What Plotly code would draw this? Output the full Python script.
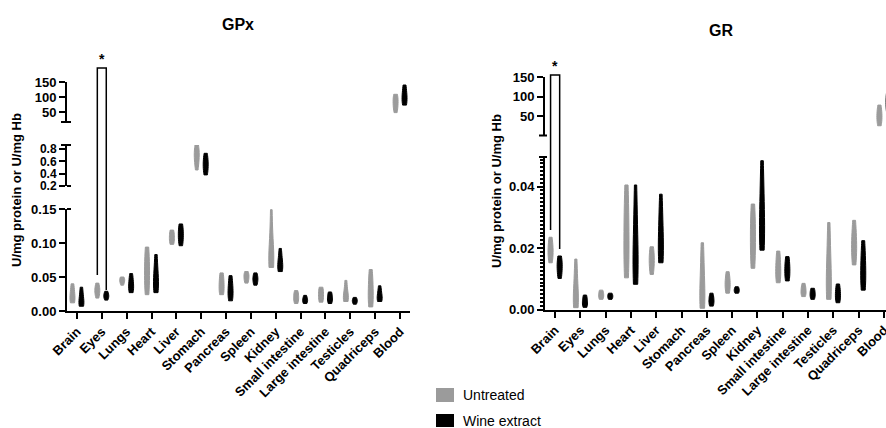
import plotly.graph_objects as go

W, H = 886, 428

categories = ["Brain", "Eyes", "Lungs", "Heart", "Liver", "Stomach", "Pancreas",
              "Spleen", "Kidney", "Small intestine", "Large intestine",
              "Testicles", "Quadriceps", "Blood"]

# GPx (U/mg protein or U/mg Hb) - estimated sample values per tissue
gpx_untreated = [
    [0.012, 0.016, 0.022, 0.030, 0.040],
    [0.019, 0.026, 0.030, 0.034, 0.041],
    [0.038, 0.042, 0.045, 0.047, 0.050],
    [0.024, 0.035, 0.050, 0.065, 0.080, 0.094],
    [0.098, 0.103, 0.108, 0.114, 0.119],
    [0.46, 0.58, 0.66, 0.72, 0.80, 0.865],
    [0.024, 0.030, 0.038, 0.047, 0.056],
    [0.041, 0.046, 0.050, 0.054, 0.058],
    [0.064, 0.068, 0.074, 0.085, 0.110, 0.149],
    [0.011, 0.016, 0.020, 0.025, 0.030],
    [0.013, 0.018, 0.024, 0.030, 0.035],
    [0.014, 0.017, 0.021, 0.030, 0.045],
    [0.006, 0.012, 0.022, 0.035, 0.048, 0.061],
    [48, 62, 75, 88, 100, 109],
]
gpx_wine = [
    [0.007, 0.010, 0.015, 0.024, 0.035],
    [0.016, 0.020, 0.022, 0.025, 0.029],
    [0.027, 0.032, 0.038, 0.046, 0.055],
    [0.027, 0.035, 0.045, 0.060, 0.083],
    [0.096, 0.104, 0.112, 0.120, 0.128],
    [0.38, 0.47, 0.55, 0.63, 0.73],
    [0.015, 0.022, 0.030, 0.040, 0.052],
    [0.038, 0.043, 0.047, 0.051, 0.056],
    [0.058, 0.063, 0.068, 0.078, 0.092],
    [0.011, 0.014, 0.016, 0.019, 0.023],
    [0.011, 0.015, 0.019, 0.023, 0.028],
    [0.010, 0.013, 0.015, 0.017, 0.020],
    [0.014, 0.017, 0.021, 0.028, 0.037],
    [73, 85, 100, 118, 140],
]
# GR
gr_untreated = [
    [0.0152, 0.0175, 0.019, 0.021, 0.0235],
    [0.0006, 0.0015, 0.003, 0.006, 0.011, 0.0164],
    [0.0033, 0.004, 0.0047, 0.0055, 0.0063],
    [0.0103, 0.014, 0.020, 0.027, 0.034, 0.0405],
    [0.0114, 0.014, 0.016, 0.018, 0.0204],
    [],
    [0.0004, 0.0015, 0.004, 0.009, 0.015, 0.0217],
    [0.0053, 0.007, 0.0085, 0.010, 0.0123],
    [0.0134, 0.017, 0.021, 0.026, 0.030, 0.0343],
    [0.0087, 0.011, 0.013, 0.016, 0.019],
    [0.0042, 0.0052, 0.006, 0.0072, 0.0085],
    [0.0033, 0.005, 0.008, 0.013, 0.020, 0.0283],
    [0.0145, 0.018, 0.021, 0.024, 0.029],
    [25, 38, 50, 62, 78],
]
gr_wine = [
    [0.0101, 0.012, 0.014, 0.0155, 0.0174],
    [0.0007, 0.0015, 0.0025, 0.0035, 0.0047],
    [0.0033, 0.0038, 0.0043, 0.0048, 0.0053],
    [0.0082, 0.011, 0.015, 0.021, 0.030, 0.0405],
    [0.0152, 0.017, 0.020, 0.025, 0.031, 0.0375],
    [],
    [0.0011, 0.002, 0.003, 0.004, 0.0053],
    [0.0053, 0.0058, 0.0063, 0.0068, 0.0074],
    [0.0193, 0.022, 0.026, 0.032, 0.040, 0.0484],
    [0.0093, 0.011, 0.013, 0.015, 0.0172],
    [0.0033, 0.0042, 0.005, 0.006, 0.0069],
    [0.0022, 0.0035, 0.005, 0.0065, 0.0083],
    [0.0063, 0.009, 0.013, 0.017, 0.0224],
    [55, 70, 85, 100, 115],
]

# broken-axis segments (value ranges), bottom first
gpx_segments = [(0, 0.15), (0.2, 0.865), (16.7, 150)]
gr_segments = [(0, 0.0496), (0, 150)]

GRAY = "rgb(155,155,155)"
BLACK = "rgb(0,0,0)"
OFF = 0.18
FONT = "Liberation Sans, Arial, sans-serif"


def fx(px):
    return px / W


def fy(py):
    return 1 - py / H


fig = go.Figure()


def add_panel(untreated, wine, segments, xname, ynames, tag):
    for samples_list, color, off, g in ((untreated, GRAY, -OFF, "u"), (wine, BLACK, OFF, "w")):
        for i, s in enumerate(samples_list):
            if not s:
                continue
            m = max(s)
            k = next(j for j, (lo, hi) in enumerate(segments) if m <= hi * 1.02)
            fig.add_trace(go.Violin(
                x=[i + off] * len(s), y=s, xaxis=xname, yaxis=ynames[k],
                spanmode="hard", points=False, width=0.2, scalemode="width",
                scalegroup=f"{tag}{g}{i}", bandwidth=0.3 * (max(s) - min(s)),
                fillcolor=color, line=dict(color=color, width=1),
                box_visible=False, meanline_visible=False,
                hoverinfo="skip", showlegend=False, opacity=1))


add_panel(gpx_untreated, gpx_wine, gpx_segments, "x", ["y", "y2", "y3"], "gpx")
add_panel(gr_untreated, gr_wine, gr_segments, "x2", ["y4", "y5"], "gr")

tickfont = dict(family=FONT, size=13, color="black", weight="bold")
common = dict(showline=True, linecolor="black", linewidth=2, ticks="outside",
              ticklen=6, tickwidth=2, tickcolor="black", showgrid=False,
              zeroline=False, tickfont=tickfont, fixedrange=True, automargin=False)

xcommon = dict(common, tickmode="array", tickvals=list(range(len(categories))),
               ticktext=categories, tickangle=-45, ticklabeloverflow="allow")

fig.update_layout(
    width=W, height=H, margin=dict(l=0, r=0, t=0, b=0, pad=0),
    paper_bgcolor="white", plot_bgcolor="rgba(0,0,0,0)",
    violinmode="overlay", showlegend=False,
    xaxis=dict(xcommon, domain=[fx(67), fx(410)], range=[-0.4, 13.4], anchor="y"),
    yaxis=dict(common, domain=[fy(311), fy(209)], range=list(gpx_segments[0]), anchor="x",
               tickmode="array", tickvals=[0, 0.05, 0.10, 0.15],
               ticktext=["0.00", "0.05", "0.10", "0.15"]),
    yaxis2=dict(common, domain=[fy(186), fy(145)], range=list(gpx_segments[1]), anchor="x",
                tickmode="array", tickvals=[0.2, 0.4, 0.6, 0.8],
                ticktext=["0.2", "0.4", "0.6", "0.8"],
                tickfont=dict(tickfont, size=12)),
    yaxis3=dict(common, domain=[fy(122), fy(82)], range=list(gpx_segments[2]), anchor="x",
                tickmode="array", tickvals=[50, 100, 150], ticktext=["50", "100", "150"]),
    xaxis2=dict(xcommon, domain=[fx(545), 1], range=[-0.4, 13.08], anchor="y4"),
    yaxis4=dict(common, domain=[fy(309.5), fy(157)], range=list(gr_segments[0]), anchor="x2",
                tickmode="array", tickvals=[0, 0.02, 0.04],
                ticktext=["0.00", "0.02", "0.04"],
                minor=dict(dtick=0.00125, ticklen=3, tickwidth=1.5,
                           tickcolor="black", ticks="outside", showgrid=False)),
    yaxis5=dict(common, domain=[fy(135.5), fy(77)], range=list(gr_segments[1]), anchor="x2",
                tickmode="array", tickvals=[50, 100, 150], ticktext=["50", "100", "150"]),
)

shapes = []
# axis-break caps
for yy in (122, 145):
    shapes.append(dict(type="line", xref="paper", yref="paper", x0=fx(61), x1=fx(71),
                       y0=fy(yy), y1=fy(yy), line=dict(color="black", width=2)))
for yy in (186, 209):
    shapes.append(dict(type="line", xref="paper", yref="paper", x0=fx(67), x1=fx(71),
                       y0=fy(yy), y1=fy(yy), line=dict(color="black", width=2)))
for yy in (135.5, 157):
    shapes.append(dict(type="line", xref="paper", yref="paper", x0=fx(539), x1=fx(547),
                       y0=fy(yy), y1=fy(yy), line=dict(color="black", width=2)))


# significance brackets
def bracket(xref, xl, xr, ytop, yl, yr):
    path = (f"M {xl},{fy(yl)} L {xl},{fy(ytop)} L {xr},{fy(ytop)} L {xr},{fy(yr)}")
    shapes.append(dict(type="path", xref=xref, yref="paper", path=path,
                       line=dict(color="black", width=1.5)))


bracket("x", 1 - OFF, 1 + OFF, 68, 275, 290)
bracket("x2", -OFF, OFF, 75, 230, 249)

# legend swatches
shapes.append(dict(type="rect", xref="paper", yref="paper", x0=fx(436), x1=fx(454),
                   y0=fy(402), y1=fy(388), fillcolor=GRAY, line=dict(width=0)))
shapes.append(dict(type="rect", xref="paper", yref="paper", x0=fx(436), x1=fx(454),
                   y0=fy(427), y1=fy(414), fillcolor=BLACK, line=dict(width=0)))
fig.update_layout(shapes=shapes)

ann = []


def note(text, x, y, xref="paper", size=13, xanchor="center", angle=0):
    ann.append(dict(text=text, x=x, y=y, xref=xref, yref="paper", showarrow=False,
                    xanchor=xanchor, yanchor="middle", textangle=angle,
                    font=dict(family=FONT, size=size, color="black")))


note("<b>GPx</b>", fx(238), fy(24), size=16)
note("<b>GR</b>", fx(721), fy(31), size=16)
note("<b>U/mg protein or U/mg Hb</b>", fx(16), fy(190), angle=-90)
note("<b>U/mg protein or U/mg Hb</b>", fx(496), fy(191), angle=-90)
note("<b>*</b>", 1, fy(59), xref="x", size=14)
note("<b>*</b>", 0, fy(66), xref="x2", size=14)
note("Untreated", fx(461), fy(395), xanchor="left", size=14)
note("Wine extract", fx(461), fy(420.5), xanchor="left", size=14)
fig.update_layout(annotations=ann)

fig.write_html("out.html")
